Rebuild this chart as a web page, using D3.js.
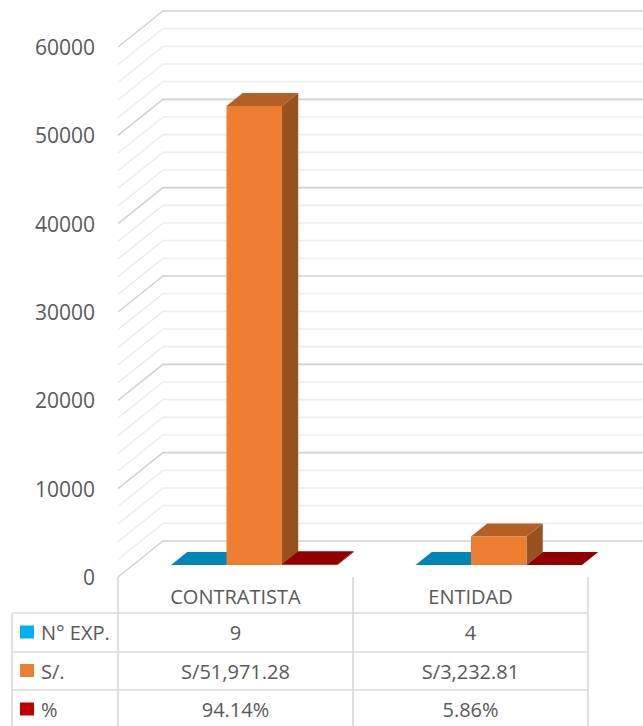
<!DOCTYPE html>
<html>
<head>
<meta charset="utf-8">
<script src="https://cdn.jsdelivr.net/npm/d3@7"></script>
<style>
html,body{margin:0;padding:0;background:#fff;}
svg{display:block;}
text{font-family:"Open Sans",sans-serif;fill:#595959;}
</style>
</head>
<body>
<svg id="chart" width="643" height="726"></svg>
<script>
// ---- data ----
const categories = ["CONTRATISTA", "ENTIDAD"];
const seriesNames = ["N° EXP.", "S/.", "%"];
const nExp = [9, 4];
const soles = [51971.28, 3232.81];
const pct = [94.14, 5.86];
const nExpLabels = ["9", "4"];
const solesLabels = ["S/51,971.28", "S/3,232.81"];
const pctLabels = ["94.14%", "5.86%"];
const yTicks = [0, 10000, 20000, 30000, 40000, 50000, 60000];
const seriesColors = ["#00b0f0", "#ed7d31", "#c00000"];

// ---- layout ----
const W = 643, H = 726;
const svg = d3.select("#chart");
const frontLeft = 118, frontRight = 588;
const depth = {dx: 45, dy: -36};   // wall depth offset
const f1 = 0.333, f2 = 0.694;       // bar front / back depth fractions

const y = d3.scaleLinear().domain([0, 60000]).range([577, 47]);
const x = d3.scaleBand().domain(categories).range([frontLeft, frontRight]).padding(0);
// bars sit a bit deeper: slightly wider spacing from perspective
const xBar = d3.scaleBand().domain(categories).range([frontLeft - 1, frontRight + 18]).padding(0);
const barW = 55.5;
const inner = d3.scaleBand().domain(d3.range(seriesNames.length))
  .range([0, barW * seriesNames.length]).padding(0);

const seriesData = [nExp, soles, pct];

// ---- gridlines (left wall + back wall) ----
const minorTicks = d3.range(0, 60001, 2000);
const grid = svg.append("g");
minorTicks.forEach(v => {
  const major = v % 10000 === 0;
  const yf = y(v);
  grid.append("path")
    .attr("d", `M${frontLeft},${yf} L${frontLeft + depth.dx},${yf + depth.dy} L${W},${yf + depth.dy}`)
    .attr("fill", "none")
    .attr("stroke", major ? "#d2d2d2" : "#ededed")
    .attr("stroke-width", 1.6);
});

// ---- y axis labels ----
svg.append("g").selectAll("text").data(yTicks).join("text")
  .attr("x", 95).attr("y", d => y(d))
  .attr("text-anchor", "end").attr("dominant-baseline", "central")
  .attr("font-size", 21)
  .text(d => d);

// ---- bars ----
function shade(c, k) {
  const r = d3.rgb(c);
  return d3.rgb(r.r * k, r.g * k, r.b * k).toString();
}
const bars = svg.append("g");
categories.forEach((cat, ci) => {
  const groupW = barW * seriesNames.length;
  const gx0 = xBar(cat) + xBar.bandwidth() / 2 - groupW / 2;
  seriesNames.forEach((s, si) => {
    const v = seriesData[si][ci];
    const xl = gx0 + inner(si), xr = xl + inner.bandwidth();
    const o1 = {dx: depth.dx * f1, dy: depth.dy * f1};
    const o2 = {dx: depth.dx * f2, dy: depth.dy * f2};
    const yb = y(0), yt = y(v);
    const FLb = [xl + o1.dx, yb + o1.dy], FRb = [xr + o1.dx, yb + o1.dy];
    const FLt = [xl + o1.dx, yt + o1.dy], FRt = [xr + o1.dx, yt + o1.dy];
    const BLt = [xl + o2.dx, yt + o2.dy], BRt = [xr + o2.dx, yt + o2.dy];
    const BRb = [xr + o2.dx, yb + o2.dy];
    const line = pts => "M" + pts.map(p => p.join(",")).join("L") + "Z";
    const col = seriesColors[si];
    bars.append("path").attr("d", line([FRb, FRt, BRt, BRb])).attr("fill", shade(col, 0.65));
    bars.append("path").attr("d", line([FLt, FRt, BRt, BLt])).attr("fill", shade(col, 0.76));
    bars.append("path").attr("d", line([FLb, FRb, FRt, FLt])).attr("fill", col);
  });
});

// ---- data table ----
const table = svg.append("g");
const lineCol = "#d9d9d9";
const rowTop = 577, rowY = [613, 652, 690, 729];
const labelLeft = 12;
[frontLeft, x("ENTIDAD"), frontRight].forEach(xx => {
  table.append("line").attr("x1", xx).attr("x2", xx).attr("y1", rowTop).attr("y2", H + 5)
    .attr("stroke", lineCol).attr("stroke-width", 1.6);
});
table.append("line").attr("x1", labelLeft).attr("x2", labelLeft).attr("y1", rowY[0]).attr("y2", H + 5)
  .attr("stroke", lineCol).attr("stroke-width", 1.6);
rowY.forEach(yy => {
  table.append("line").attr("x1", labelLeft).attr("x2", frontRight).attr("y1", yy).attr("y2", yy)
    .attr("stroke", lineCol).attr("stroke-width", 1.6);
});
table.selectAll("text.cat").data(categories).join("text").attr("class", "cat")
  .attr("x", d => x(d) + x.bandwidth() / 2).attr("y", (rowTop + rowY[0]) / 2 + 1)
  .attr("text-anchor", "middle").attr("dominant-baseline", "central")
  .attr("font-size", 20).text(d => d);
const rowLabels = [nExpLabels, solesLabels, pctLabels];
seriesNames.forEach((s, si) => {
  const cy = (rowY[si] + rowY[si + 1]) / 2;
  table.append("rect").attr("x", 20).attr("y", cy - 7).attr("width", 14).attr("height", 13)
    .attr("fill", seriesColors[si]);
  table.append("text").attr("x", 41).attr("y", cy).attr("dominant-baseline", "central")
    .attr("font-size", 20).text(s);
  categories.forEach((cat, ci) => {
    table.append("text").attr("x", x(cat) + x.bandwidth() / 2).attr("y", cy)
      .attr("text-anchor", "middle").attr("dominant-baseline", "central")
      .attr("font-size", 20).text(rowLabels[si][ci]);
  });
});
</script>
</body>
</html>
